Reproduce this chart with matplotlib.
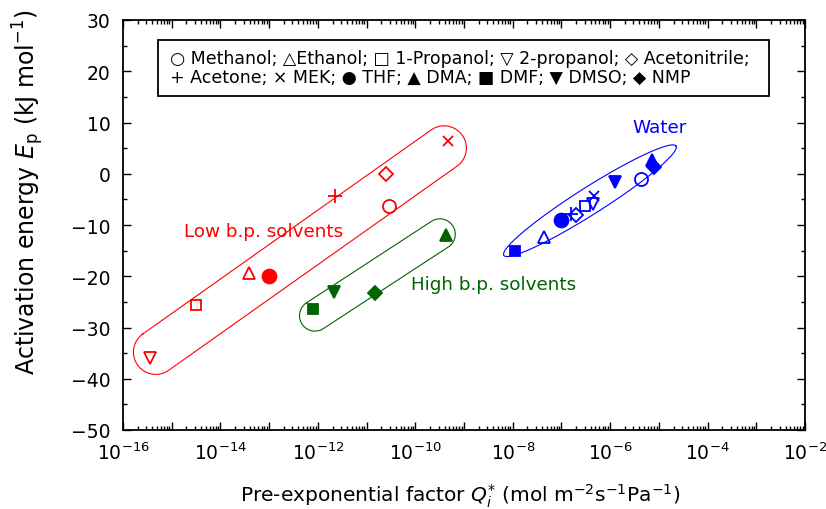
import numpy as np
import matplotlib
matplotlib.use('Agg')
import matplotlib.pyplot as plt
from matplotlib.ticker import LogLocator, FuncFormatter, MultipleLocator, NullFormatter
from matplotlib.patches import Rectangle

# ---------------- data ----------------
solvents = ['Methanol', 'Ethanol', '1-Propanol', '2-propanol', 'Acetonitrile',
            'Acetone', 'MEK', 'THF', 'DMA', 'DMF', 'DMSO', 'NMP']

low_bp_names = ['Methanol', 'Ethanol', '1-Propanol', '2-propanol',
                'Acetonitrile', 'Acetone', 'MEK', 'THF']
low_bp_q = [2.95e-11, 3.9e-14, 3.16e-15, 3.5e-16, 2.45e-11, 2.3e-12, 4.7e-10, 1.0e-13]
low_bp_e = [-6.2, -19.4, -25.6, -36.0, -0.1, -4.4, 6.3, -20.0]

high_bp_names = ['DMA', 'DMF', 'DMSO', 'NMP']
high_bp_q = [4.2e-10, 7.9e-13, 2.1e-12, 1.5e-11]
high_bp_e = [-12.0, -26.3, -23.1, -23.3]

water_names = solvents
water_q = [4.3e-6, 4.3e-8, 3.0e-7, 4.4e-7, 2.0e-7, 1.6e-7, 4.6e-7, 9.8e-8,
           7.1e-6, 1.12e-8, 1.26e-6, 7.8e-6]
water_e = [-1.0, -12.4, -6.2, -5.9, -8.0, -7.85, -4.3, -9.0, 2.75, -15.0, -1.55, 1.26]

group_labels = ['Low b.p. solvents', 'High b.p. solvents', 'Water']
legend_line1 = '\u25cb Methanol; \u25b3Ethanol; \u25a1 1-Propanol; \u25bd 2-propanol; \u25c7 Acetonitrile;'
legend_line2 = '+ Acetone; \u00d7 MEK; \u25cf THF; \u25b2 DMA; \u25a0 DMF; \u25bc DMSO; \u25c6 NMP'

# ---------------- styles ----------------
RED, GREEN, BLUE = '#ff0000', '#006400', '#0000ff'
marker_style = {  # marker, filled, size
    'Methanol': ('o', False, 9.4), 'Ethanol': ('^', False, 8.0),
    '1-Propanol': ('s', False, 7.2), '2-propanol': ('v', False, 8.0),
    'Acetonitrile': ('D', False, 7.0), 'Acetone': ('+', False, 9.6),
    'MEK': ('x', False, 7.2), 'THF': ('o', True, 10.0),
    'DMA': ('^', True, 8.0), 'DMF': ('s', True, 7.4),
    'DMSO': ('v', True, 8.2), 'NMP': ('D', True, 7.2),
}

W, H, DPI = 826, 510, 100
fig = plt.figure(figsize=(W / DPI, H / DPI), dpi=DPI)
L, R, T, B = 123, 805, 21, 431
ax = fig.add_axes([L / W, 1 - B / H, (R - L) / W, (B - T) / H])
ax.set_xscale('log')
ax.set_xlim(1e-16, 1e-2)
ax.set_ylim(-50, 30)

def draw_group(names, q, e, color):
    for n, xv, yv in zip(names, q, e):
        m, filled, ms = marker_style[n]
        ax.plot([xv], [yv], ls='none', marker=m, ms=ms,
                mfc=color if filled else 'none', mec=color,
                mew=1.3, zorder=3)

draw_group(low_bp_names, low_bp_q, low_bp_e, RED)
draw_group(high_bp_names, high_bp_q, high_bp_e, GREEN)
draw_group(water_names, water_q, water_e, BLUE)

# ---------------- group outlines ----------------
def capsule(p1, p2, r_px, color):
    P = ax.transData.transform([p1, p2])
    d = P[1] - P[0]
    ang = np.arctan2(d[1], d[0])
    t1 = np.linspace(ang + np.pi / 2, ang + 3 * np.pi / 2, 80)
    t2 = np.linspace(ang - np.pi / 2, ang + np.pi / 2, 80)
    c1 = P[0] + r_px * np.column_stack([np.cos(t1), np.sin(t1)])
    c2 = P[1] + r_px * np.column_stack([np.cos(t2), np.sin(t2)])
    pts = np.vstack([c1, c2, c1[:1]])
    dd = ax.transData.inverted().transform(pts)
    ax.plot(dd[:, 0], dd[:, 1], color=color, lw=0.8, zorder=2)

def ellipse(c, a_px, b_px, angle_deg, color):
    C = ax.transData.transform([c])[0]
    t = np.linspace(0, 2 * np.pi, 300)
    th = np.deg2rad(angle_deg)
    x = a_px * np.cos(t)
    y = b_px * np.sin(t)
    pts = np.column_stack([C[0] + x * np.cos(th) - y * np.sin(th),
                           C[1] + x * np.sin(th) + y * np.cos(th)])
    dd = ax.transData.inverted().transform(pts)
    ax.plot(dd[:, 0], dd[:, 1], color=color, lw=0.8, zorder=2)

capsule((4.7e-16, -34.8), (3.9e-10, 5.0), 22.3, RED)
capsule((8.7e-13, -27.7), (3.2e-10, -11.8), 15.4, GREEN)
ellipse((3.85e-7, -5.26), 102, 13.5, 32.4, BLUE)

# ---------------- annotations ----------------
ax.text(0.2067, 0.486, group_labels[0], color=RED, fontsize=13.2,
        ha='center', va='center', transform=ax.transAxes)
ax.text(0.543, 0.356, group_labels[1], color=GREEN, fontsize=13.2,
        ha='center', va='center', transform=ax.transAxes)
ax.text(0.787, 0.738, group_labels[2], color=BLUE, fontsize=13.2,
        ha='center', va='center', transform=ax.transAxes)

# ---------------- axes styling ----------------
ax.xaxis.set_major_locator(LogLocator(base=10, subs=(1.0,), numticks=30))
ax.xaxis.set_minor_locator(LogLocator(base=10, subs=np.arange(2, 10), numticks=30))
ax.xaxis.set_minor_formatter(NullFormatter())

def xfmt(v, pos):
    k = int(round(np.log10(v)))
    return r'$10^{%d}$' % k if k % 2 == 0 else ''

ax.xaxis.set_major_formatter(FuncFormatter(xfmt))
ax.yaxis.set_major_locator(MultipleLocator(10))
ax.yaxis.set_minor_locator(MultipleLocator(5))
ax.tick_params(which='both', direction='in', top=True, right=True, width=1.0)
ax.tick_params(which='major', length=6, labelsize=13.5)
ax.tick_params(which='minor', length=3)
ax.tick_params(axis='x', pad=8)
ax.tick_params(axis='y', pad=9)
for s in ax.spines.values():
    s.set_linewidth(1.3)

fig.text(460 / W, 1 - 496 / H,
         r'Pre-exponential factor $Q_i^{*}$ (mol m$^{-2}$s$^{-1}$Pa$^{-1}$)',
         ha='center', va='center', fontsize=14.5)
fig.text(28 / W, 1 - 192 / H,
         r'Activation energy $E_{\rm p}$ (kJ mol$^{-1}$)',
         ha='center', va='center', rotation=90, fontsize=17)

# legend box
fig.patches.append(Rectangle((158 / W, 1 - 97 / H), 611 / W, 56 / H,
                             transform=fig.transFigure, fill=False,
                             ec='black', lw=1.3))
fig.text(170 / W, 1 - 59 / H, legend_line1, ha='left', va='center',
         fontsize=12.5, family='DejaVu Sans')
fig.text(170 / W, 1 - 78 / H, legend_line2, ha='left', va='center',
         fontsize=12.5, family='DejaVu Sans')

fig.savefig('out.png', dpi=DPI)
